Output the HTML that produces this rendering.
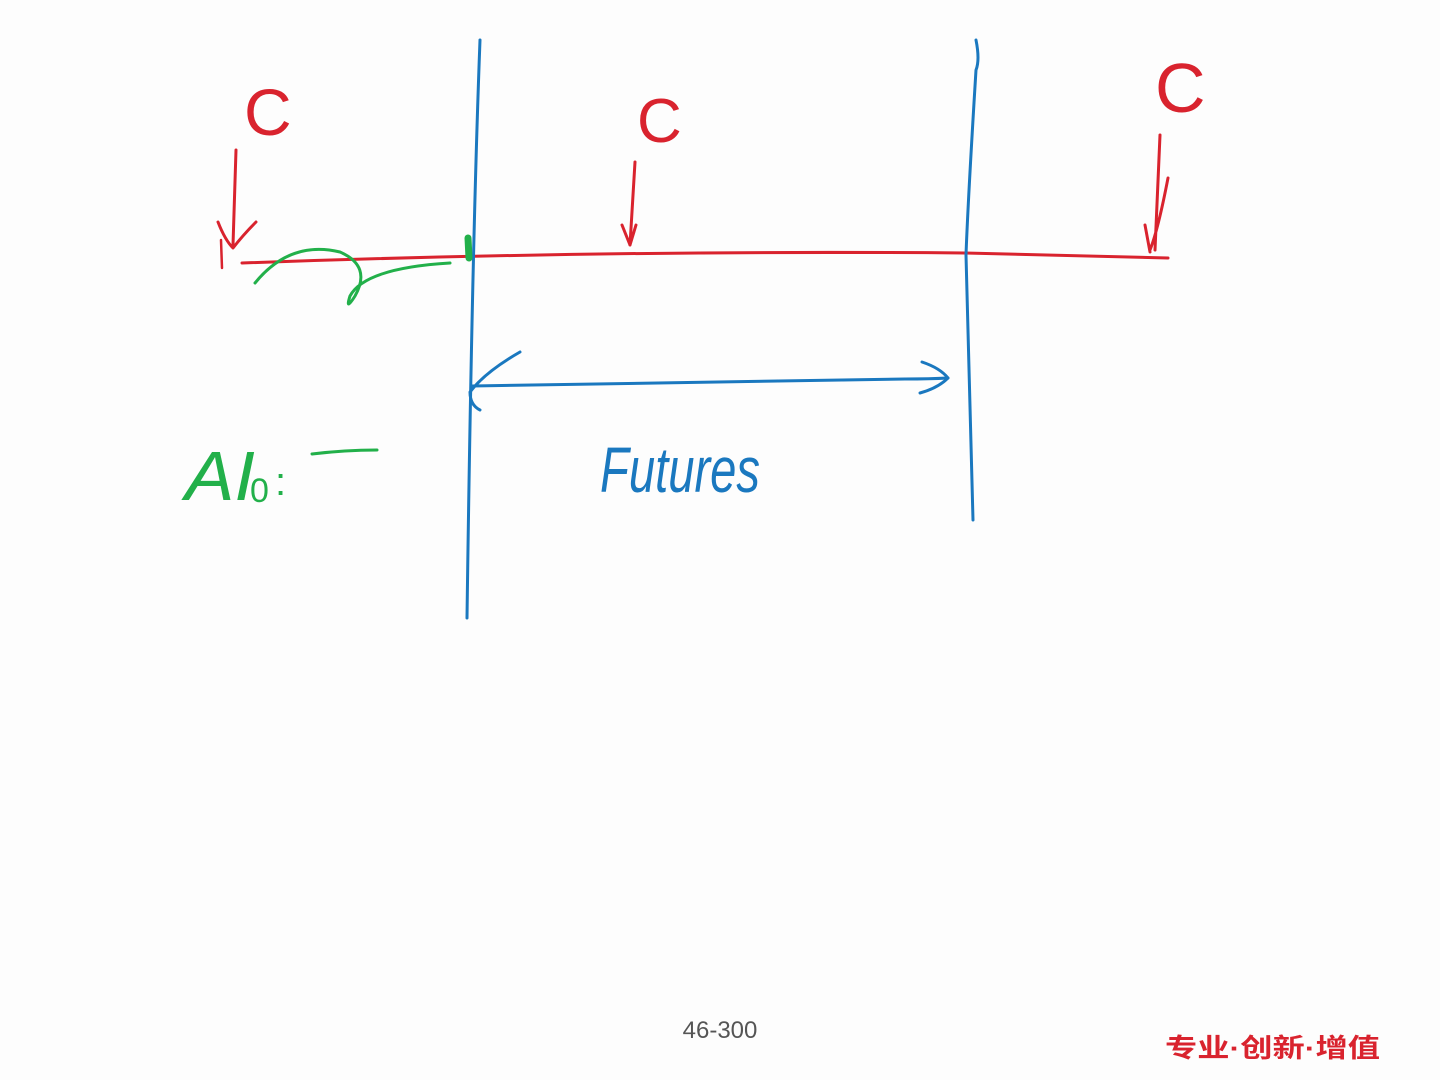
<!DOCTYPE html>
<html><head><meta charset="utf-8"><style>
html,body{margin:0;padding:0;background:#fdfdfd;}
svg{display:block}
</style></head><body>
<svg width="1440" height="1080" viewBox="0 0 1440 1080" xmlns="http://www.w3.org/2000/svg">
<rect width="1440" height="1080" fill="#fdfdfd"/>
<g fill="none" stroke-linecap="round" stroke-linejoin="round">
<!-- red timeline -->
<path d="M242 263 Q600 250 965 253 L1168 258" stroke="#d9232e" stroke-width="3"/>
<!-- red arrows -->
<path d="M236 150 L233 245 M218 222 Q225 240 233 248 Q243 235 256 222" stroke="#d9232e" stroke-width="3"/>
<path d="M221 240 L222 268" stroke="#d9232e" stroke-width="2.5"/>
<path d="M635 162 L630 245 M622 225 L630 245 L636 225" stroke="#d9232e" stroke-width="3"/>
<path d="M1160 135 L1155 250 M1168 178 Q1158 230 1150 250 M1145 225 L1150 252" stroke="#d9232e" stroke-width="3"/>
<!-- blue verticals -->
<path d="M480 40 Q472 250 467 618" stroke="#1a78bf" stroke-width="3"/>
<path d="M976 40 Q980 60 976 70 Q968 200 966 255 Q970 400 973 520" stroke="#1a78bf" stroke-width="3"/>
<!-- blue arrow -->
<path d="M472 386 Q700 382 905 379 Q930 379 948 378" stroke="#1a78bf" stroke-width="3"/>
<path d="M520 352 Q485 372 470 392 Q470 405 480 410" stroke="#1a78bf" stroke-width="3"/>
<path d="M922 362 Q940 368 948 378 Q938 388 920 393" stroke="#1a78bf" stroke-width="3"/>
<!-- green curve -->
<path d="M255 283 Q290 240 340 252 Q372 266 355 296 Q345 312 350 296 Q365 268 450 263" stroke="#22b04a" stroke-width="3"/>
<path d="M468 238 L469 258" stroke="#22b04a" stroke-width="7"/>
<path d="M312 454 Q345 450 377 450" stroke="#22b04a" stroke-width="3"/>
</g>
<g font-family="Liberation Sans, sans-serif">
<text x="244" y="135" font-size="66" fill="#d9232e">C</text>
<text x="637" y="142" font-size="62" fill="#d9232e">C</text>
<text x="1155" y="112" font-size="70" fill="#d9232e">C</text>
<text x="600" y="492" font-size="64" fill="#1a78bf" font-style="italic" textLength="160" lengthAdjust="spacingAndGlyphs">Futures</text>
<text x="185" y="500" font-size="70" fill="#22b04a" font-style="italic" textLength="70" lengthAdjust="spacingAndGlyphs">AI</text>
<text x="250" y="502" font-size="34" fill="#22b04a">0</text>
<text x="275" y="495" font-size="40" fill="#22b04a">:</text>
<text x="720" y="1038" font-size="24" fill="#555" text-anchor="middle">46-300</text>
<text x="1165" y="1057" font-size="26" fill="#d9232e" font-weight="bold" font-family="Liberation Sans, Noto Sans CJK SC, sans-serif" textLength="215" lengthAdjust="spacingAndGlyphs">专业·创新·增值</text>
</g>
</svg>
</body></html>
